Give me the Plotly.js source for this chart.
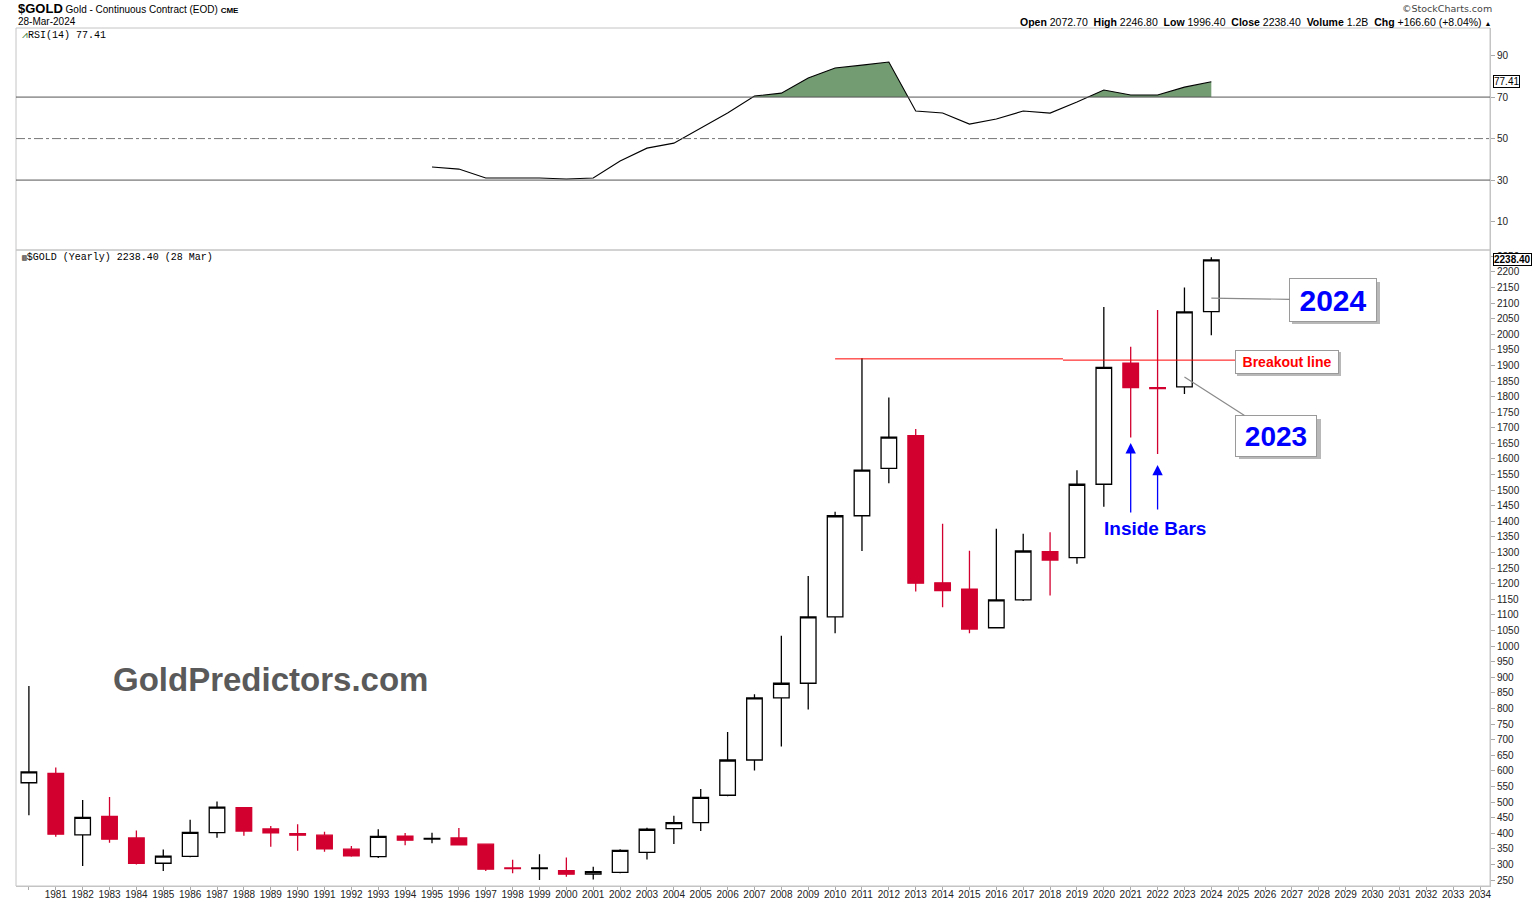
<!DOCTYPE html>
<html><head><meta charset="utf-8">
<script src="https://cdn.plot.ly/plotly-3.0.1.min.js"></script>
<style>html,body{margin:0;padding:0;background:#fff}#chart{width:1536px;height:902px}</style>
</head><body><div id="chart"></div>
<script>
// ---- Yearly OHLC data ----
const years  = [1980,1981,1982,1983,1984,1985,1986,1987,1988,1989,1990,1991,1992,1993,1994,1995,1996,1997,1998,1999,2000,2001,2002,2003,2004,2005,2006,2007,2008,2009,2010,2011,2012,2013,2014,2015,2016,2017,2018,2019,2020,2021,2022,2023,2024];
const opens  = [562,592,395,454,385,304,326,402,482,414,399,394,349,325,391,381,385,365,289,287,280,269,275,339,415,434,522,635,834,881,1094,1418,1570,1675,1203,1183,1059,1148,1303,1284,1519,1907,1829,1831,2072.7];
const highs  = [872,611,507,516,409,348,443,502,484,423,429,405,359,413,401,402,417,366,315,333,322,293,349,418,456,542,725,846,1033,1225,1431,1923,1797,1696,1392,1306,1376,1360,1365,1564,2087,1960,2078,2150,2246.8];
const lows   = [458,389,295,370,300,279,323,386,392,357,344,341,325,321,362,368,361,279,272,250,261,252,272,316,366,407,519,601,678,797,1041,1305,1522,1175,1125,1041,1057,1145,1162,1264,1447,1669,1616,1808,1996.4];
const closes = [597,397,451,381,304,327,403,484,407,401,394,350,328,390,378,384,363,285,287,289,269,277,345,413,434,515,635,834,881,1094,1418,1564,1670,1202,1178,1055,1148,1305,1276,1519,1894,1829,1826,2071.8,2238.4];

// ---- RSI(14) yearly ----
const rsiYears  = [1995,1996,1997,1998,1999,2000,2001,2002,2003,2004,2005,2006,2007,2008,2009,2010,2011,2012,2013,2014,2015,2016,2017,2018,2019,2020,2021,2022,2023,2024];
const rsiValues = [36.3,35.3,31.0,31.0,31.0,30.5,31.0,39.2,45.4,47.8,55.0,62.3,70.5,71.9,79.2,84.0,85.4,86.9,63.3,62.3,57.0,59.4,63.3,62.3,67.6,73.4,71.0,71.0,74.8,77.41];
const rsiLevels = [70, 50, 30];

// ---- Tick labels ----
const tickYears  = [1980,1981,1982,1983,1984,1985,1986,1987,1988,1989,1990,1991,1992,1993,1994,1995,1996,1997,1998,1999,2000,2001,2002,2003,2004,2005,2006,2007,2008,2009,2010,2011,2012,2013,2014,2015,2016,2017,2018,2019,2020,2021,2022,2023,2024,2025,2026,2027,2028,2029,2030,2031,2032,2033,2034];
const tickLabels = ['','1981','1982','1983','1984','1985','1986','1987','1988','1989','1990','1991','1992','1993','1994','1995','1996','1997','1998','1999','2000','2001','2002','2003','2004','2005','2006','2007','2008','2009','2010','2011','2012','2013','2014','2015','2016','2017','2018','2019','2020','2021','2022','2023','2024','2025','2026','2027','2028','2029','2030','2031','2032','2033','2034'];

// ---- Annotation values ----
const breakoutLevels = [1921, 1917];
const insideBarYears = [2021, 2022];
const insideBarArrowTops = [1651, 1581];
const insideBarArrowBottoms = [1424, 1433];

// layout geometry helpers (pixel -> paper)
const L = 16, R = 1490, T = 28, B = 886;
const split = (B - 250) / (B - T);
const px = p => (p - L) / (R - L);
const py = p => (B - p) / (B - T);

const RED = '#d2002e';
const FONT = 'Arial, "Liberation Sans", sans-serif';

// RSI fill above 70 (with crossing points)
const fx = [], fy = [];
for (let i = 0; i < rsiYears.length; i++) {
  if (i > 0) {
    const a = rsiValues[i-1], b = rsiValues[i];
    if ((a - 70) * (b - 70) < 0) {
      const t = (70 - a) / (b - a);
      fx.push(rsiYears[i-1] + t * (rsiYears[i] - rsiYears[i-1]));
      fy.push(70);
    }
  }
  fx.push(rsiYears[i]);
  fy.push(Math.max(70, rsiValues[i]));
}

const traces = [
  { type:'candlestick', x:years, open:opens, high:highs, low:lows, close:closes,
    xaxis:'x', yaxis:'y', hoverinfo:'skip',
    increasing:{line:{color:'#000', width:1.3}, fillcolor:'#ffffff'},
    decreasing:{line:{color:RED, width:1.3}, fillcolor:RED},
    whiskerwidth:0, showlegend:false },
  { type:'scatter', mode:'lines', x:[rsiYears[0], rsiYears[rsiYears.length-1]], y:[70,70],
    xaxis:'x', yaxis:'y2', line:{width:0, color:'rgba(0,0,0,0)'}, hoverinfo:'skip', showlegend:false },
  { type:'scatter', mode:'lines', x:fx, y:fy, xaxis:'x', yaxis:'y2', fill:'tonexty',
    fillcolor:'#739c73', line:{width:0, color:'rgba(0,0,0,0)'}, hoverinfo:'skip', showlegend:false },
  { type:'scatter', mode:'lines', x:rsiYears, y:rsiValues, xaxis:'x', yaxis:'y2',
    line:{color:'#000', width:1.1}, hoverinfo:'skip', showlegend:false }
];

// callout box shadows (pixel boxes converted to paper)
const shadowRect = (x0, y0, x1, y1) => ({type:'rect', xref:'paper', yref:'paper', layer:'above',
  x0:px(x0), x1:px(x1), y0:py(y1), y1:py(y0), fillcolor:'#b8b8b8', line:{width:0}});

const shapes = [
  // panel frames
  {type:'rect', xref:'paper', yref:'paper', x0:0, x1:1, y0:split, y1:1, line:{color:'#c4c4c4', width:1}},
  {type:'rect', xref:'paper', yref:'paper', x0:0, x1:1, y0:0, y1:split, line:{color:'#c4c4c4', width:1}},
  // breakout line
  {type:'line', xref:'x', yref:'y', x0:2010.0, x1:2018.48, y0:breakoutLevels[0], y1:breakoutLevels[0], line:{color:'#ff0000', width:1}},
  {type:'line', xref:'x', yref:'y', x0:2018.48, x1:2024.9, y0:breakoutLevels[1], y1:breakoutLevels[1], line:{color:'#ff0000', width:1}},
  shadowRect(1292, 282, 1380, 324),
  shadowRect(1239, 419, 1321, 459),
  shadowRect(1237, 352, 1341, 376)
];
rsiLevels.forEach(v => {
  shapes.push({type:'line', xref:'paper', yref:'y2', x0:0, x1:1, y0:v, y1:v,
    line: v === 50 ? {color:'#777', width:1, dash:'dashdot'} : {color:'#555', width:1}});
});

const n = years.length;
const lastC = closes[n-1], prevC = closes[n-2];
const chg = lastC - prevC, pct = chg / prevC * 100;
const rsiLast = rsiValues[rsiValues.length-1];

const annotations = [
  {xref:'paper', yref:'paper', x:px(16), y:py(9), xanchor:'left', yanchor:'middle', showarrow:false,
   text:'<span style="font-size:13px"><b>$GOLD</b></span> Gold - Continuous Contract (EOD) <span style="font-size:8px"><b>CME</b></span>',
   font:{family:FONT, size:10, color:'#000'}},
  {xref:'paper', yref:'paper', x:px(16), y:py(22), xanchor:'left', yanchor:'middle', showarrow:false,
   text:'28-Mar-2024', font:{family:FONT, size:10, color:'#000'}},
  {xref:'paper', yref:'paper', x:px(1494), y:py(9), xanchor:'right', yanchor:'middle', showarrow:false,
   text:'©StockCharts.com', font:{family:'"DejaVu Sans", Verdana, sans-serif', size:9.5, color:'#444'}},
  {xref:'paper', yref:'paper', x:px(1493), y:py(22), xanchor:'right', yanchor:'middle', showarrow:false,
   text:'<b>Open</b> ' + opens[n-1].toFixed(2) + '  <b>High</b> ' + highs[n-1].toFixed(2) + '  <b>Low</b> ' + lows[n-1].toFixed(2) +
        '  <b>Close</b> ' + lastC.toFixed(2) + '  <b>Volume</b> 1.2B  <b>Chg</b> +' + chg.toFixed(2) + ' (+' + pct.toFixed(2) + '%) <span style="font-size:7px">▲</span>',
   font:{family:FONT, size:10.5, color:'#000'}},
  {xref:'paper', yref:'paper', x:px(20), y:py(35), xanchor:'left', yanchor:'middle', showarrow:false,
   text:'<span style="color:#3a7a3a">⩘</span>RSI(14) ' + rsiLast.toFixed(2), font:{family:'"Liberation Mono", "DejaVu Sans Mono", monospace', size:10, color:'#000'}},
  {xref:'paper', yref:'paper', x:px(20), y:py(257), xanchor:'left', yanchor:'middle', showarrow:false,
   text:'<span style="font-size:8px">▥</span>$GOLD (Yearly) ' + lastC.toFixed(2) + ' (28 Mar)', font:{family:'"Liberation Mono", "DejaVu Sans Mono", monospace', size:10, color:'#000'}},
  {xref:'paper', yref:'paper', x:px(270), y:py(679), xanchor:'center', yanchor:'middle', showarrow:false,
   text:'<b>GoldPredictors.com</b>', font:{family:FONT, size:33, color:'#5a5a5a'}},
  // last-value tags
  {xref:'paper', yref:'y2', x:1.002, y:rsiLast, xanchor:'left', yanchor:'middle', showarrow:false,
   text:rsiLast.toFixed(2), font:{family:FONT, size:10, color:'#000'}, bgcolor:'#fff', bordercolor:'#000', borderwidth:1, borderpad:0},
  {xref:'paper', yref:'y', x:1.002, y:lastC, xanchor:'left', yanchor:'middle', showarrow:false,
   text:'<b>' + lastC.toFixed(2) + '</b>', font:{family:FONT, size:10, color:'#000'}, bgcolor:'#fff', bordercolor:'#000', borderwidth:1, borderpad:0},
  // breakout label
  {xref:'x', yref:'y', x:2024.88, y:1911, xanchor:'left', yanchor:'middle', showarrow:false,
   text:'<b>Breakout line</b>', font:{family:FONT, size:14, color:'#ff0000'},
   bgcolor:'#fff', bordercolor:'#9a9a9a', borderwidth:1, width:100, height:20, borderpad:1},
  // 2024 callout
  {xref:'x', yref:'y', x:2024, y:2116, ax:122, ay:2, showarrow:true, arrowhead:0, arrowcolor:'#8a8a8a', arrowwidth:1.2,
   text:'<b>2024</b>', font:{family:FONT, size:30, color:'#0000ff'},
   bgcolor:'#fff', bordercolor:'#9a9a9a', borderwidth:1, width:84, height:40},
  // 2023 callout
  {xref:'x', yref:'y', x:2023, y:1863, ax:92, ay:59, showarrow:true, arrowhead:0, arrowcolor:'#8a8a8a', arrowwidth:1.2,
   text:'<b>2023</b>', font:{family:FONT, size:28, color:'#0000ff'},
   bgcolor:'#fff', bordercolor:'#9a9a9a', borderwidth:1, width:78, height:38},
  // inside bars
  {xref:'x', yref:'y', x:2021.9, y:1376, showarrow:false, xanchor:'center', yanchor:'middle',
   text:'<b>Inside Bars</b>', font:{family:FONT, size:19, color:'#0000ff'}}
];
insideBarYears.forEach((yr, i) => {
  annotations.push({xref:'x', yref:'y', x:yr, y:insideBarArrowTops[i], axref:'x', ayref:'y', ax:yr, ay:insideBarArrowBottoms[i],
    showarrow:true, arrowhead:2, arrowsize:1.6, arrowwidth:1.3, arrowcolor:'#0000ff', standoff:0, text:''});
});

const layout = {
  width:1536, height:902,
  margin:{l:L, r:1536-R, t:T, b:902-B, pad:0},
  paper_bgcolor:'#fff', plot_bgcolor:'#fff',
  showlegend:false,
  boxgap:0.42, boxgroupgap:0,
  font:{family:FONT, size:10, color:'#222'},
  xaxis:{
    domain:[0,1], anchor:'y', range:[1979.52, 2034.37], type:'linear',
    tickmode:'array', tickvals:tickYears, ticktext:tickLabels,
    ticks:'outside', ticklen:3, tickcolor:'#aaa', tickwidth:1, ticklabelstandoff:-4,
    showgrid:false, zeroline:false, showline:true, linecolor:'#c4c4c4',
    tickfont:{family:FONT, size:10, color:'#222'}, rangeslider:{visible:false}, fixedrange:true
  },
  yaxis:{
    domain:[0, split], anchor:'x', side:'right', range:[231, 2270],
    tick0:250, dtick:50, ticks:'outside', ticklen:4, tickcolor:'#aaa',
    showgrid:false, zeroline:false, showline:true, linecolor:'#c4c4c4',
    tickfont:{family:FONT, size:10, color:'#222'}, fixedrange:true
  },
  yaxis2:{
    domain:[split, 1], anchor:'x', side:'right', range:[-3.7, 103.3],
    tickmode:'array', tickvals:[10,30,50,70,90], ticks:'outside', ticklen:4, tickcolor:'#aaa',
    showgrid:false, zeroline:false, showline:true, linecolor:'#c4c4c4',
    tickfont:{family:FONT, size:10, color:'#222'}, fixedrange:true
  },
  shapes:shapes,
  annotations:annotations
};

Plotly.newPlot('chart', traces, layout, {displayModeBar:false, staticPlot:true});
</script>
</body></html>
